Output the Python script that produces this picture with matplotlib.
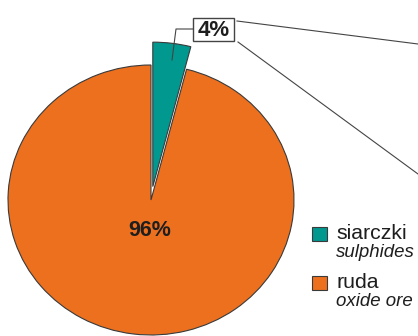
import numpy as np
import matplotlib
matplotlib.use("Agg")
import matplotlib.pyplot as plt
from matplotlib.patches import Rectangle

plt.rcParams["font.family"] = ["Liberation Sans", "DejaVu Sans"]

# shares of the two ore types, percent
labels_pl = ["siarczki", "ruda"]
labels_en = ["sulphides", "oxide ore"]
shares = [4, 96]
colors = ["#00988f", "#ec701e"]

TEXT = "#1e1e1e"
EDGE = "#3a3a3a"

W, H = 418, 336
fig = plt.figure(figsize=(W / 100, H / 100), dpi=100)

# pie axes, slightly squashed vertically (rx=143 px, ry=135 px), centre at (151, 200)
cx, cy, rx, ry = 151, 200, 143, 135
lim = 1.1
ax = fig.add_axes([(cx - lim * rx) / W, (H - cy - lim * ry) / H,
                   2 * lim * rx / W, 2 * lim * ry / H])
wedges, _ = ax.pie(shares, colors=colors, startangle=90, counterclock=False,
                   explode=[0.1, 0], radius=1,
                   wedgeprops=dict(edgecolor=EDGE, linewidth=0.8))
wedges[0].set_radius(1.07)
ax.set_xlim(-lim, lim)
ax.set_ylim(-lim, lim)
ax.set_aspect("auto")
ax.axis("off")

# percentage inside the large slice
w = wedges[1]
mid = np.deg2rad((w.theta1 + w.theta2) / 2)
ax.text(0.23 * np.cos(mid) + 0.02, 0.23 * np.sin(mid), f"{shares[1]}%",
        ha="center", va="center", fontsize=15.5, fontweight="bold", color=TEXT)

# overlay in pixel coordinates for the callout and the legend
ov = fig.add_axes([0, 0, 1, 1], zorder=5)
ov.set_xlim(0, W)
ov.set_ylim(H, 0)
ov.axis("off")
ov.patch.set_alpha(0)

ov.add_patch(Rectangle((193, 18), 41, 23, facecolor="white",
                       edgecolor="#444444", linewidth=1.0))
ov.text(213.5, 30, f"{shares[0]}%", ha="center", va="center",
        fontsize=16, fontweight="bold", color=TEXT)
ov.plot([172, 176, 193], [60, 29, 29], color="#444444", linewidth=0.8)
ov.plot([237, 418], [21, 44], color="#444444", linewidth=0.8)
ov.plot([238, 418], [42, 174], color="#444444", linewidth=0.8)

# legend
for i, (pl, en, c) in enumerate(zip(labels_pl, labels_en, colors)):
    y0 = 227 + 49 * i
    ov.add_patch(Rectangle((312, y0), 15, 14, facecolor=c,
                           edgecolor=EDGE, linewidth=0.8))
    ov.text(336, y0 + 12, pl, ha="left", va="baseline",
            fontsize=15.3, color=TEXT)
    ov.text(336, y0 + 30, en, ha="left", va="baseline",
            fontsize=13.4, fontstyle="italic", color=TEXT)

fig.savefig("out.png", dpi=100)
